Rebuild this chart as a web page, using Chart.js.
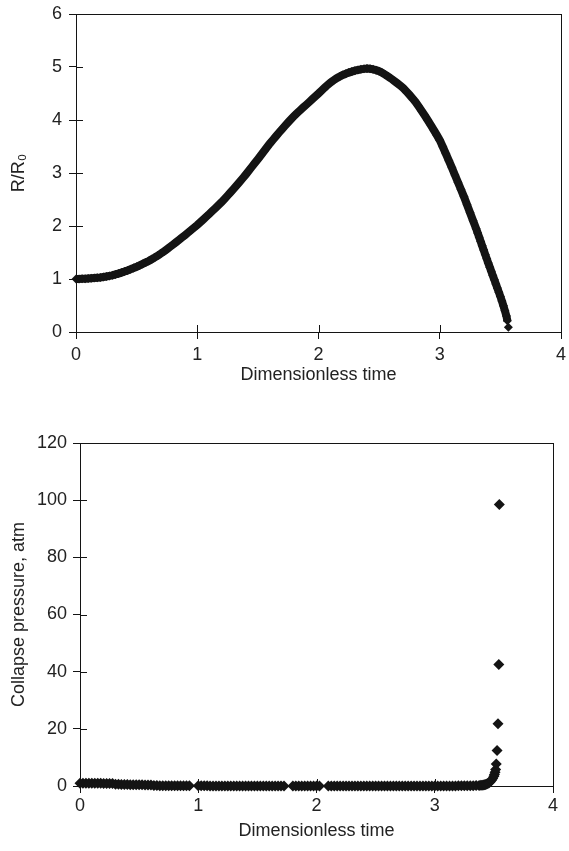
<!DOCTYPE html>
<html lang="en">
<head>
    <meta charset="UTF-8">
    <title>Bubble radius and collapse pressure</title>
    <script src="https://cdn.jsdelivr.net/npm/chart.js"></script>
    <style>
        body { margin: 0; background: #fff; }
        .box { position: absolute; left: 0; width: 569px; }
        #topBox { top: 0; height: 400px; }
        #bottomBox { top: 400px; height: 451px; }
    </style>
</head>
<body>
    <!-- R/R0 contra tempo -->
    <div class="box" id="topBox"><canvas id="radiusChart"></canvas></div>
    <!-- pressao de colapso -->
    <div class="box" id="bottomBox"><canvas id="pressureChart"></canvas></div>

<script>
    // tempo adimensional e raio relativo
    var timeR = [
        0, 0.025, 0.05, 0.075, 0.1, 0.125, 0.15, 0.175, 0.2, 0.225,
        0.25, 0.275, 0.3, 0.325, 0.35, 0.375, 0.4, 0.425, 0.45, 0.475,
        0.5, 0.525, 0.55, 0.575, 0.6, 0.625, 0.65, 0.675, 0.7, 0.725,
        0.75, 0.775, 0.8, 0.825, 0.85, 0.875, 0.9, 0.925, 0.95, 0.975,
        1.0, 1.025, 1.05, 1.075, 1.1, 1.125, 1.15, 1.175, 1.2, 1.225,
        1.25, 1.275, 1.3, 1.325, 1.35, 1.375, 1.4, 1.425, 1.45, 1.475,
        1.5, 1.525, 1.55, 1.575, 1.6, 1.625, 1.65, 1.675, 1.7, 1.725,
        1.75, 1.775, 1.8, 1.825, 1.85, 1.875, 1.9, 1.925, 1.95, 1.975,
        2.0, 2.025, 2.05, 2.075, 2.1, 2.125, 2.15, 2.175, 2.2, 2.225,
        2.25, 2.275, 2.3, 2.325, 2.35, 2.375, 2.4, 2.425, 2.45, 2.475,
        2.5, 2.525, 2.55, 2.575, 2.6, 2.625, 2.65, 2.675, 2.7, 2.725,
        2.75, 2.775, 2.8, 2.825, 2.85, 2.875, 2.9, 2.925, 2.95, 2.975,
        3.0, 3.025, 3.05, 3.075, 3.1, 3.125, 3.15, 3.175, 3.2, 3.225,
        3.25, 3.275, 3.3, 3.3125, 3.325, 3.3375, 3.35, 3.3625, 3.375, 3.3875,
        3.4, 3.4125, 3.425, 3.4375, 3.45, 3.4625, 3.475, 3.4875, 3.5, 3.5125,
        3.525, 3.5375, 3.55, 3.558, 3.566
    ];
    var radius = [
        1.000, 1.001, 1.003, 1.005, 1.010, 1.014, 1.019, 1.025, 1.030, 1.038,
        1.047, 1.058, 1.070, 1.086, 1.103, 1.121, 1.140, 1.161, 1.183, 1.206,
        1.230, 1.257, 1.284, 1.312, 1.340, 1.373, 1.407, 1.443, 1.480, 1.521,
        1.563, 1.606, 1.650, 1.694, 1.739, 1.784, 1.830, 1.877, 1.925, 1.972,
        2.020, 2.072, 2.124, 2.177, 2.230, 2.284, 2.338, 2.394, 2.450, 2.511,
        2.573, 2.636, 2.700, 2.766, 2.833, 2.901, 2.970, 3.042, 3.115, 3.188,
        3.260, 3.335, 3.410, 3.485, 3.560, 3.628, 3.696, 3.764, 3.830, 3.894,
        3.957, 4.019, 4.080, 4.134, 4.187, 4.239, 4.290, 4.343, 4.396, 4.448,
        4.500, 4.555, 4.610, 4.662, 4.710, 4.750, 4.788, 4.821, 4.850, 4.873,
        4.894, 4.913, 4.930, 4.944, 4.956, 4.965, 4.970, 4.966, 4.956, 4.940,
        4.920, 4.890, 4.856, 4.819, 4.780, 4.737, 4.693, 4.647, 4.600, 4.540,
        4.476, 4.410, 4.340, 4.258, 4.174, 4.088, 4.000, 3.909, 3.815, 3.719,
        3.620, 3.495, 3.365, 3.233, 3.100, 2.963, 2.825, 2.688, 2.550, 2.400,
        2.250, 2.100, 1.950, 1.870, 1.790, 1.708, 1.626, 1.545, 1.463, 1.381,
        1.300, 1.222, 1.144, 1.065, 0.987, 0.908, 0.829, 0.750, 0.670, 0.585,
        0.495, 0.400, 0.300, 0.210, 0.090
    ];

    // tempo e pressao de colapso (atm)
    var timeP = [
        0, 0.025, 0.05, 0.075, 0.1, 0.125, 0.15, 0.175, 0.2, 0.225,
        0.25, 0.275, 0.3, 0.325, 0.35, 0.375, 0.4, 0.425, 0.45, 0.475,
        0.5, 0.525, 0.55, 0.575, 0.6, 0.625, 0.65, 0.675, 0.7, 0.725,
        0.75, 0.775, 0.8, 0.825, 0.85, 0.875, 0.9, 0.925,
        1.0, 1.025, 1.05, 1.075, 1.1, 1.125, 1.15, 1.175, 1.2, 1.225,
        1.25, 1.275, 1.3, 1.325, 1.35, 1.375, 1.4, 1.425, 1.45, 1.475,
        1.5, 1.525, 1.55, 1.575, 1.6, 1.625, 1.65, 1.675, 1.7, 1.725,
        1.8, 1.825, 1.85, 1.875, 1.9, 1.925, 1.95, 1.975, 2.0, 2.025,
        2.1, 2.125, 2.15, 2.175, 2.2, 2.225, 2.25, 2.275, 2.3, 2.325,
        2.35, 2.375, 2.4, 2.425, 2.45, 2.475, 2.5, 2.525, 2.55, 2.575,
        2.6, 2.625, 2.65, 2.675, 2.7, 2.725, 2.75, 2.775, 2.8, 2.825,
        2.85, 2.875, 2.9, 2.925, 2.95,
        2.975, 3.0, 3.025, 3.05, 3.075, 3.1, 3.125, 3.15, 3.175, 3.2,
        3.225, 3.25, 3.275, 3.3, 3.325, 3.35, 3.375,
        3.39, 3.4, 3.41, 3.42, 3.43, 3.44, 3.45, 3.46, 3.47, 3.48,
        3.49, 3.5, 3.505, 3.51, 3.515, 3.52, 3.527, 3.535, 3.542, 3.546
    ];
    var pressure = [
        1.00, 1.00, 0.99, 0.98, 0.97, 0.96, 0.95, 0.93, 0.91, 0.89,
        0.87, 0.84, 0.60, 0.58, 0.55, 0.52, 0.50, 0.48, 0.46, 0.44,
        0.42, 0.40, 0.38, 0.36, 0.34, 0.15, 0.14, 0.13, 0.12, 0.11,
        0.10, 0.09, 0.08, 0.08, 0.07, 0.06, 0.06, 0.05,
        0.05, 0.05, 0.05, 0.05, 0.04, 0.04, 0.04, 0.04, 0.04, 0.04,
        0.03, 0.03, 0.03, 0.03, 0.03, 0.03, 0.03, 0.03, 0.03, 0.03,
        0.02, 0.02, 0.02, 0.02, 0.02, 0.02, 0.02, 0.02, 0.02, 0.02,
        0.02, 0.02, 0.02, 0.01, 0.01, 0.01, 0.01, 0.01, 0.01, 0.01,
        0.01, 0.01, 0.01, 0.01, 0.01, 0.01, 0.01, 0.01, 0.01, 0.01,
        0.01, 0.01, 0.01, 0.01, 0.01, 0.01, 0.01, 0.01, 0.01, 0.01,
        0.01, 0.01, 0.01, 0.01, 0.01, 0.01, 0.01, 0.01, 0.01, 0.01,
        0.01, 0.01, 0.01, 0.01, 0.01,
        0.01, 0.01, 0.02, 0.02, 0.02, 0.03, 0.03, 0.04, 0.04, 0.05,
        0.06, 0.07, 0.08, 0.10, 0.12, 0.15, 0.18,
        0.25, 0.30, 0.38, 0.45, 0.55, 0.70, 0.85, 1.10, 1.50, 2.00,
        2.60, 3.40, 4.00, 4.80, 5.80, 7.70, 12.4, 21.8, 42.5, 98.5
    ];

    var xTicks = [0, 1, 2, 3, 4];
    var radiusTicks = [0, 1, 2, 3, 4, 5, 6];
    var pressureTicks = [0, 20, 40, 60, 80, 100, 120];

    var fonte = 'Liberation Sans, Arial, sans-serif';
    var preto = '#141414';

    // moldura do grafico + tracinhos para dentro
    var moldura = {
        id: 'moldura',
        beforeDatasetsDraw: function (chart) {
            var ctx = chart.ctx;
            var a = chart.chartArea;
            var sx = chart.scales.x;
            var sy = chart.scales.y;
            ctx.save();
            ctx.strokeStyle = preto;
            ctx.lineWidth = 1;
            ctx.strokeRect(Math.round(a.left) + 0.5, Math.round(a.top) + 0.5,
                Math.round(a.right - a.left), Math.round(a.bottom - a.top));
            ctx.beginPath();
            sx.ticks.forEach(function (t) {
                var px = Math.round(sx.getPixelForValue(t.value)) + 0.5;
                ctx.moveTo(px, a.bottom);
                ctx.lineTo(px, a.bottom - 7);
            });
            sy.ticks.forEach(function (t) {
                var py = Math.round(sy.getPixelForValue(t.value)) + 0.5;
                ctx.moveTo(a.left, py);
                ctx.lineTo(a.left + 7, py);
            });
            ctx.stroke();
            ctx.restore();
        }
    };

    function montarPontos(xs, ys) {
        return xs.map(function (x, i) { return { x: x, y: ys[i] }; });
    }

    function criarGrafico(id, xs, ys, cfg) {
        var ultimo = xs.length - 1;
        new Chart(document.getElementById(id), {
            type: 'scatter',
            data: {
                datasets: [{
                    data: montarPontos(xs, ys),
                    pointStyle: 'rectRot',
                    pointRadius: cfg.raio,
                    pointBackgroundColor: preto,
                    pointBorderColor: preto,
                    pointBorderWidth: 0,
                    showLine: cfg.linha,
                    borderColor: preto,
                    borderWidth: 8,
                    // o ultimo losango fica separado
                    segment: {
                        borderColor: function (c) {
                            return c.p1DataIndex === ultimo ? 'rgba(0,0,0,0)' : undefined;
                        }
                    },
                    clip: false
                }]
            },
            plugins: [moldura],
            options: {
                responsive: true,
                maintainAspectRatio: false,
                animation: false,
                layout: { padding: cfg.padding },
                plugins: {
                    legend: { display: false },
                    tooltip: { enabled: false }
                },
                scales: {
                    x: {
                        type: 'linear',
                        min: 0,
                        max: 4,
                        afterBuildTicks: function (s) {
                            s.ticks = xTicks.map(function (v) { return { value: v }; });
                        },
                        afterFit: function (s) {
                            s.height = cfg.xHeight;
                            s.paddingLeft = 0;
                            s.paddingRight = 0;
                        },
                        grid: { drawOnChartArea: false, tickLength: 7, color: preto },
                        border: { color: preto },
                        ticks: { color: '#222', padding: cfg.xPad, font: { family: fonte, size: 18 } },
                        title: {
                            display: true,
                            text: 'Dimensionless time',
                            color: '#222',
                            font: { family: fonte, size: 18 },
                            padding: { top: 0, bottom: cfg.xTitlePad }
                        }
                    },
                    y: {
                        type: 'linear',
                        min: cfg.yTicks[0],
                        max: cfg.yTicks[cfg.yTicks.length - 1],
                        afterBuildTicks: function (s) {
                            s.ticks = cfg.yTicks.map(function (v) { return { value: v }; });
                        },
                        afterFit: function (s) {
                            s.width = cfg.yWidth;
                            s.paddingTop = 0;
                            s.paddingBottom = 0;
                        },
                        grid: { drawOnChartArea: false, tickLength: 7, color: preto },
                        border: { color: preto },
                        ticks: { color: '#222', padding: cfg.yPad, font: { family: fonte, size: 18 } },
                        title: {
                            display: true,
                            text: cfg.yTitle,
                            color: '#222',
                            font: { family: fonte, size: 18 },
                            padding: { top: 8, bottom: 0 }
                        }
                    }
                }
            }
        });
    }

    window.onload = function () {
        criarGrafico('radiusChart', timeR, radius, {
            padding: { top: 14, right: 8, left: 0, bottom: 0 },
            xHeight: 68, yWidth: 76, xPad: 5, yPad: 7, xTitlePad: 14,
            yTicks: radiusTicks, yTitle: 'R/R\u2080', raio: 4.5, linha: true
        });
        criarGrafico('pressureChart', timeP, pressure, {
            padding: { top: 43, right: 16, left: 0, bottom: 0 },
            xHeight: 65, yWidth: 80, xPad: 2, yPad: 6, xTitlePad: 9,
            yTicks: pressureTicks, yTitle: 'Collapse pressure, atm', raio: 5.5, linha: false
        });
    };
</script>
</body>
</html>
